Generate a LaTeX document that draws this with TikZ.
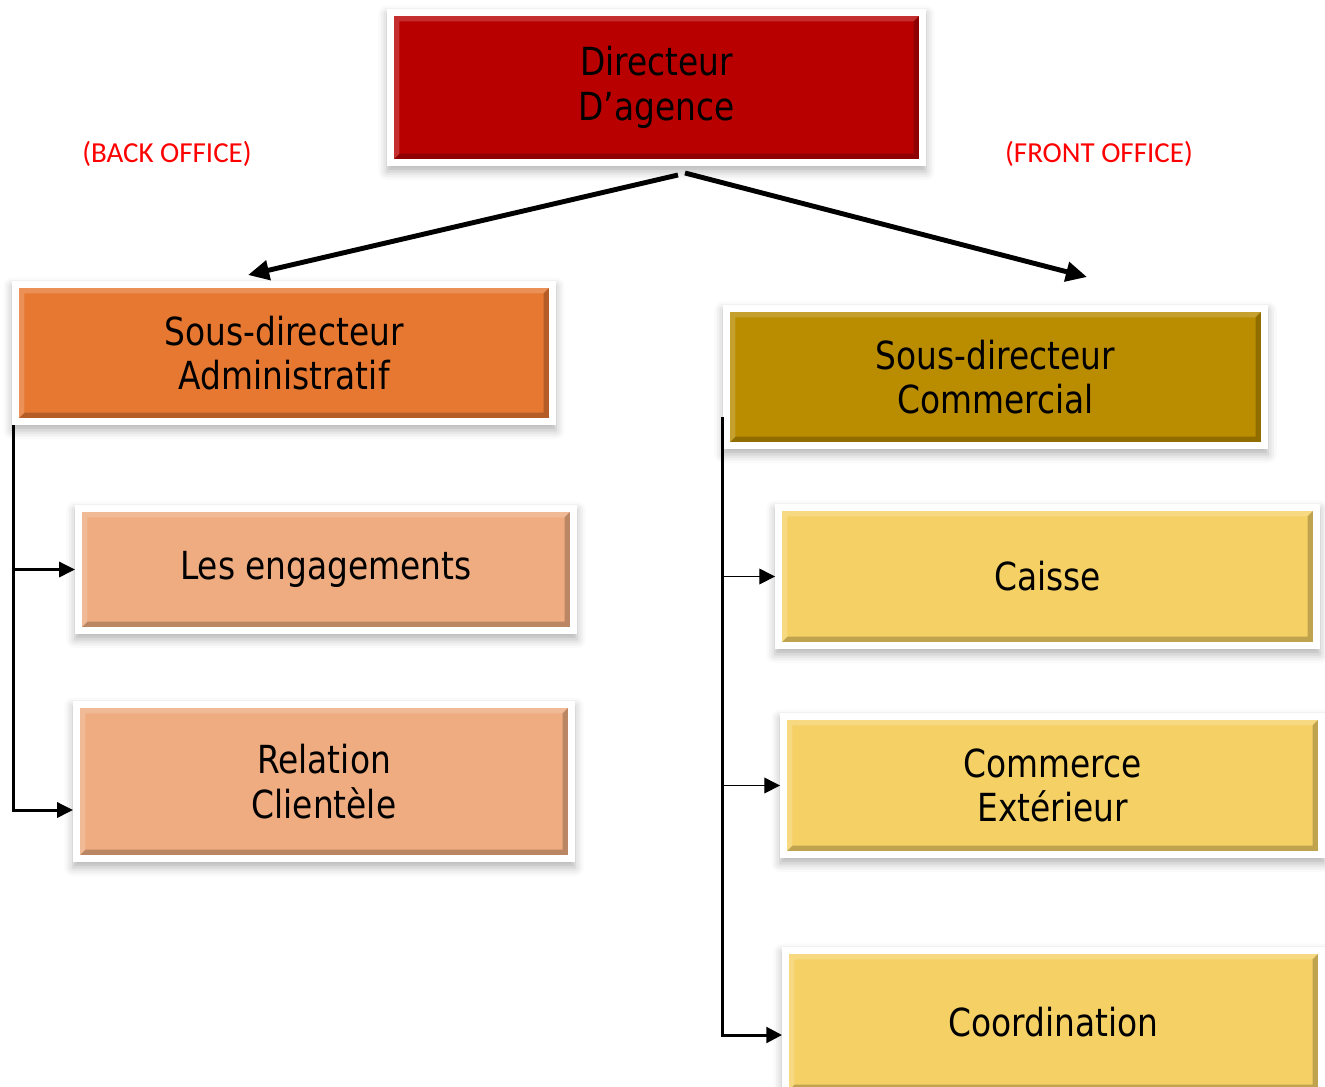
\documentclass[tikz,border=0pt]{standalone}
\usepackage{fontspec}
\usepackage{tikz}
\usetikzlibrary{arrows.meta,shadows.blur}
\newfontfamily\boxfont{DejaVu Sans}[FakeStretch=0.85]
\newfontfamily\officefont{Carlito}
\definecolor{brickred}{RGB}{184,0,0}
\definecolor{pumpkin}{RGB}{231,120,49}
\definecolor{ochre}{RGB}{186,140,0}
\definecolor{peach}{RGB}{239,172,128}
\definecolor{butter}{RGB}{245,209,101}
\definecolor{officered}{RGB}{255,0,0}
\tikzset{%
    box fill/.style={%
        path picture={%
            \coordinate (sw) at ([shift={(4pt,4pt)}]path picture bounding box.south west);
            \coordinate (ne) at ([shift={(-4pt,-4pt)}]path picture bounding box.north east);
            \fill[#1] (sw) rectangle (ne);
            \fill[black,opacity=.22]
              (sw) -- (sw -| ne) -- (ne) -- ([shift={(-3pt,-3pt)}]ne)
              -- ([shift={(-3pt,3pt)}]sw -| ne) -- ([shift={(3pt,3pt)}]sw) -- cycle;
            \fill[white,opacity=.18]
              (sw) -- (sw |- ne) -- (ne) -- ([shift={(-3pt,-3pt)}]ne)
              -- ([shift={(3pt,-3pt)}]sw |- ne) -- ([shift={(3pt,3pt)}]sw) -- cycle;
        }
    }
}

\begin{document}
\begin{tikzpicture}[x=0.02cm,y=-0.02cm,
  main node/.style={rectangle,fill=white,inner sep=0pt,outer sep=0pt,align=center,
    font=\boxfont\fontsize{22}{25.5}\selectfont,
    blur shadow={shadow xshift=0pt,shadow yshift=-3pt,shadow blur radius=5pt,shadow opacity=30},
    box fill=#1},
  office/.style={font=\officefont\fontsize{16.5}{19}\selectfont,text=officered},
  big arrow/.style={-{Triangle[length=12pt,width=11pt]},line width=2.8pt},
  back link/.style={-{Triangle[length=9pt,width=8.5pt]},line width=1.7pt},
  front link/.style={-{Triangle[length=9pt,width=9pt]},line width=0.8pt}]

  \useasboundingbox (0,0) rectangle (1325,1086);

  \node[main node=brickred,minimum width=10.78cm,minimum height=3.14cm] (dir) at (656.5,87.5) {Directeur\\D’agence};

  \node[office] (back) at (167,154) {(BACK OFFICE)};
  \node[office] (front) at (1099,154) {(FRONT OFFICE)};

  \node[main node=pumpkin,minimum width=10.88cm,minimum height=2.88cm] (adm) at (284,353) {Sous-directeur\\Administratif};
  \node[main node=ochre,minimum width=10.9cm,minimum height=2.88cm] (com) at (995.5,377) {Sous-directeur\\Commercial};

  \node[main node=peach,minimum width=10.04cm,minimum height=2.58cm] (eng) at (326,569.5) {Les engagements};
  \node[main node=peach,minimum width=10.04cm,minimum height=3.22cm] (rel) at (324,781.5) {Relation\\Clientèle};

  \node[main node=butter,minimum width=10.9cm,minimum height=2.9cm] (cai) at (1047.5,576.5) {Caisse};
  \node[main node=butter,minimum width=10.9cm,minimum height=2.9cm] (ext) at (1052.5,785.5) {Commerce\\Extérieur};
  \node[main node=butter,minimum width=10.86cm,minimum height=3cm] (coo) at (1053.5,1022) {Coordination};

  % directeur vers sous-directeurs
  \path[big arrow]
    ([xshift=0.43cm,yshift=-0.18cm]dir.south) edge ([xshift=-0.72cm,yshift=0.12cm]adm.north)
    ([xshift=0.57cm,yshift=-0.14cm]dir.south) edge ([xshift=1.83cm,yshift=0.56cm]com.north);

  % back office
  \coordinate (lefttrunk) at ([xshift=0.02cm]adm.south west);
  \draw[back link] (lefttrunk) |- ([yshift=-0.57cm]rel.west);
  \draw[back link] (lefttrunk |- eng.west) -- (eng.west);

  % front office
  \coordinate (righttrunk) at ([xshift=-0.02cm,yshift=-0.8cm]com.west);
  \draw[front link,line width=1.7pt] (righttrunk) |- ([yshift=-0.26cm]coo.west);
  \draw[front link] (righttrunk |- cai.west) -- (cai.west);
  \draw[front link] (righttrunk |- ext.west) -- (ext.west);
\end{tikzpicture}
\end{document}
